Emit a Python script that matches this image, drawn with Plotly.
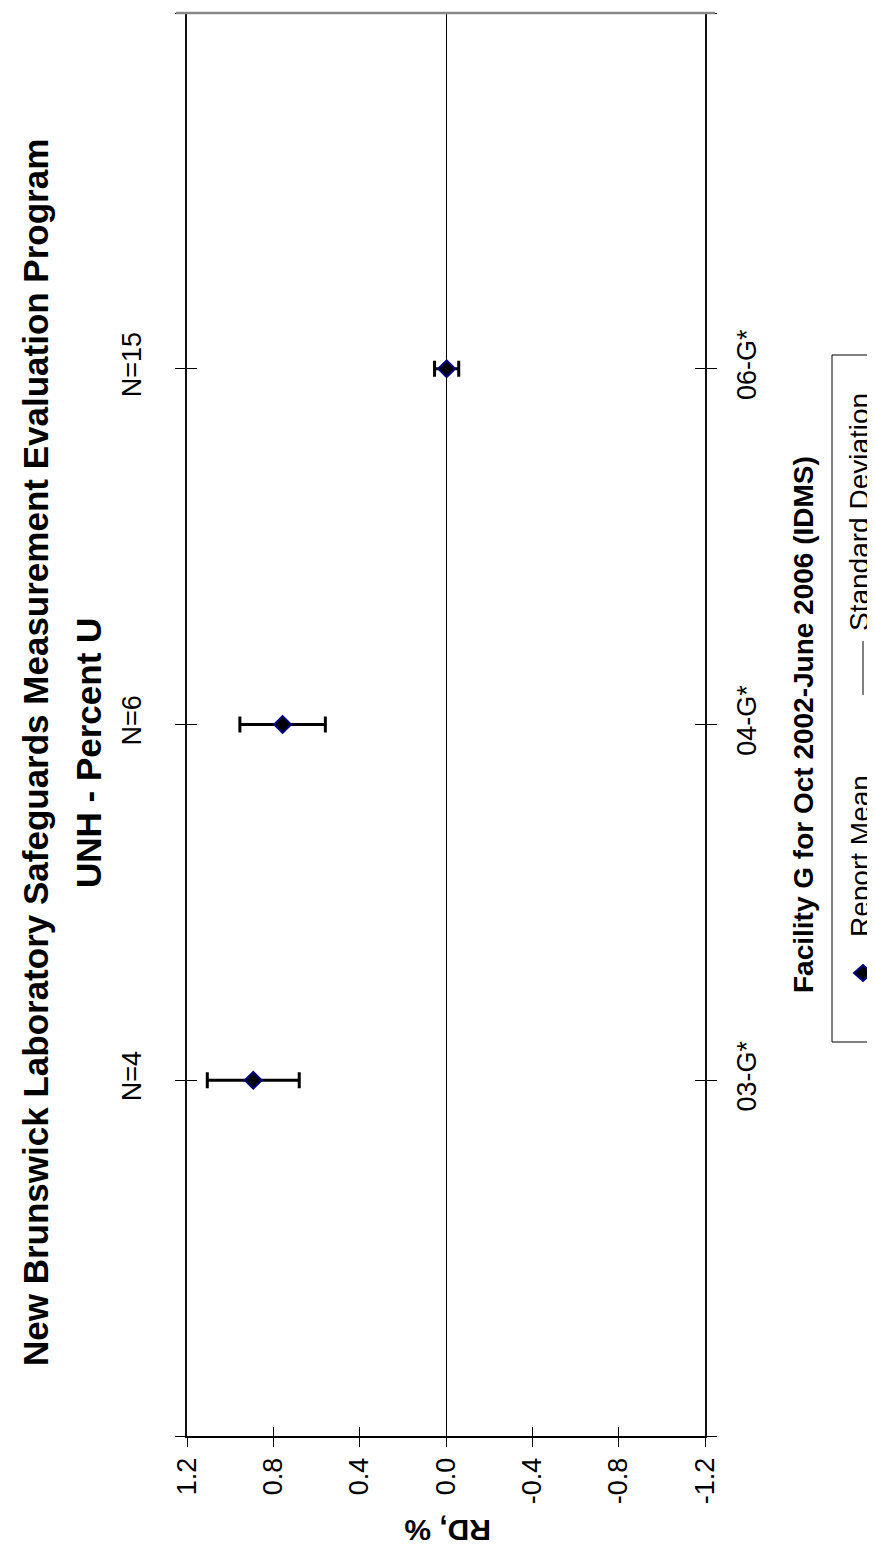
import plotly.graph_objects as go

# ---- data ----
categories = ["03-G*", "04-G*", "06-G*"]
n_labels = ["N=4", "N=6", "N=15"]
cat_pos = [1, 2, 3]
cat_ticks = [0, 1, 2, 3, 4]
report_mean = [0.893, 0.757, -0.003]
std_dev = [0.213, 0.198, 0.056]
rd_ticks = [1.2, 0.8, 0.4, 0.0, -0.4, -0.8, -1.2]

FONT = "Liberation Sans, Arial, sans-serif"

W, H = 875, 1549
L, R, T, B = 179, 697, 5, 1428
PW, PH = R - L, B - T


def px(xp):
    return (xp - L) / PW


def py(yp):
    return (B - yp) / PH


fig = go.Figure()
fig.add_trace(go.Scatter(
    x=report_mean, y=cat_pos, mode="markers", name="Report Mean",
    marker=dict(symbol="diamond", size=13, color="black",
                line=dict(color="#000080", width=2)),
    error_x=dict(type="data", array=std_dev, visible=True, color="black",
                 thickness=3, width=8),
    xaxis="x", yaxis="y", hoverinfo="skip"))
for xa, ya in [("x2", "y2"), ("x", "y3"), ("x", "y4")]:
    fig.add_trace(go.Scatter(x=report_mean, y=cat_pos, mode="markers",
                             marker=dict(opacity=0), xaxis=xa, yaxis=ya,
                             hoverinfo="skip", showlegend=False))

common_x = dict(range=[1.2, -1.2], tickmode="array", tickvals=rd_ticks,
                showgrid=False, automargin=False, fixedrange=True)
common_y = dict(range=[0, 4], showgrid=False, zeroline=False,
                automargin=False, fixedrange=True)
TICKFONT = dict(family=FONT, size=27, color="black")

fig.update_layout(
    width=W, height=H,
    margin=dict(l=L, r=W - R, t=T, b=H - B),
    plot_bgcolor="white", paper_bgcolor="white", showlegend=False,
    xaxis=dict(**common_x, ticktext=[f"{v:.1f}" for v in rd_ticks],
               tickangle=-90, ticks="outside", ticklen=9, tickwidth=1,
               tickcolor="black", showline=True, linecolor="black",
               linewidth=2, zeroline=True, zerolinecolor="black",
               zerolinewidth=1, ticklabelstandoff=0, tickfont=TICKFONT),
    xaxis2=dict(**common_x, overlaying="x", anchor="y2", side="bottom",
                ticks="inside", ticklen=9, tickwidth=1, tickcolor="black",
                showticklabels=False, showline=False, zeroline=False),
    yaxis=dict(**common_y, tickmode="array", tickvals=cat_ticks,
               ticks="outside", ticklen=10, tickwidth=1, tickcolor="black",
               showticklabels=False, showline=True, linecolor="#111111",
               linewidth=2, mirror="ticks"),
    yaxis2=dict(**common_y, overlaying="y", anchor="x2", tickmode="array",
                tickvals=cat_ticks, ticks="inside", ticklen=10, tickwidth=1,
                tickcolor="black", showticklabels=False, showline=False,
                mirror="ticks"),
    yaxis3=dict(**common_y, overlaying="y", anchor="x", side="right",
                tickmode="array", tickvals=cat_pos, ticktext=categories,
                tickangle=-90, ticks="", showline=False,
                ticklabelstandoff=23, tickfont=TICKFONT),
    yaxis4=dict(**common_y, overlaying="y", anchor="x", side="left",
                tickmode="array", tickvals=cat_pos, ticktext=n_labels,
                tickangle=-90, ticks="", showline=False,
                ticklabelstandoff=40, tickfont=TICKFONT),
)

shapes = [
    dict(type="line", xref="paper", yref="paper", x0=px(168), x1=px(707),
         y0=1, y1=1, line=dict(color="#888888", width=2.5)),
    dict(type="rect", xref="paper", yref="paper", x0=px(824), x1=px(905),
         y0=py(1034), y1=py(347), line=dict(color="black", width=1)),
    dict(type="line", xref="paper", yref="paper", x0=px(855), x1=px(855),
         y0=py(687), y1=py(633), line=dict(color="black", width=1)),
    dict(type="path", xref="paper", yref="paper",
         path=(f"M {px(846)} {py(965)} L {px(855)} {py(957)} "
               f"L {px(864)} {py(965)} L {px(855)} {py(973)} Z"),
         fillcolor="black", line=dict(color="#000080", width=2)),
]
fig.update_layout(shapes=shapes)


def ann(text, xp, yp, size, angle=-90):
    fig.add_annotation(text=text, x=px(xp), y=py(yp), xref="paper",
                       yref="paper", showarrow=False, textangle=angle,
                       xanchor="center", yanchor="middle",
                       font=dict(family=FONT, size=size, color="black"))


ann("<b>New Brunswick Laboratory Safeguards Measurement Evaluation Program</b>",
    27, 745, 35)
ann("<b>UNH - Percent U</b>", 80, 745, 35)
ann("<b>Facility G for Oct 2002-June 2006 (IDMS)</b>", 795, 717, 28)
ann("<b>RD, %</b>", 440, 1522, 30, angle=180)
ann("Report Mean", 852, 848, 28)
ann("Standard Deviation", 852, 504, 28)

fig.write_html("out.html")
